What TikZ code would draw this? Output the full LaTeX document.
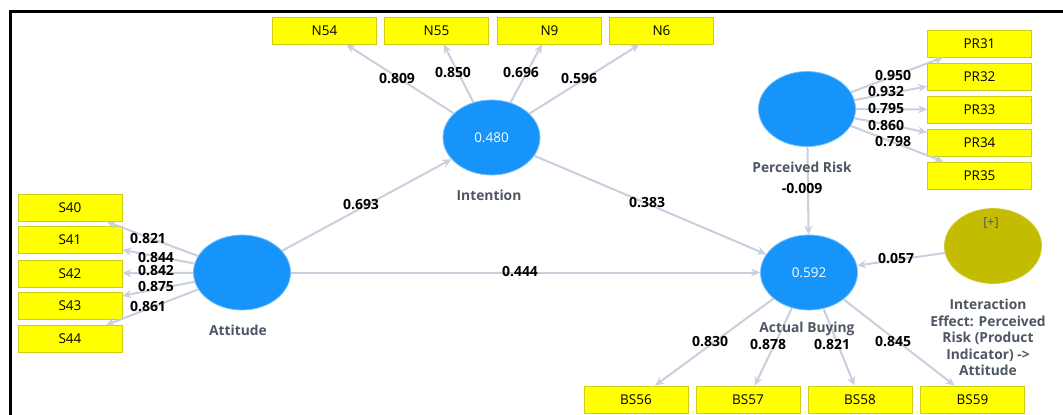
\documentclass[tikz,border=0pt]{standalone}
\usepackage{fontspec}
\setmainfont{Open Sans}
\usetikzlibrary{shapes.geometric,arrows.meta}
\definecolor{boxyellow}{RGB}{255,255,0}
\definecolor{boxedge}{RGB}{205,205,20}
\definecolor{lvblue}{RGB}{22,148,250}
\definecolor{lvedge}{RGB}{120,190,250}
\definecolor{olive}{RGB}{196,188,0}
\definecolor{arrowcol}{RGB}{200,208,222}
\definecolor{labgray}{RGB}{78,86,100}
\tikzset{
  ind/.style={draw=boxedge, line width=0.8pt, fill=boxyellow, minimum width=104pt, minimum height=27pt, inner sep=0pt, font=\fontsize{13.5}{13.5}\selectfont},
  lv/.style={ellipse, fill=lvblue, draw=lvedge, line width=0.8pt, minimum width=97pt, minimum height=75pt, inner sep=0pt, text=white, font=\fontsize{13.5}{13.5}\selectfont},
  arr/.style={draw=arrowcol, line width=2pt, -{Stealth[length=9pt,width=8pt]}},
  coef/.style={font=\bfseries\fontsize{14}{14}\selectfont, inner sep=0pt},
  lvlab/.style={text=labgray, font=\bfseries\fontsize{13.8}{16.5}\selectfont, inner sep=0pt, align=center}
}
\begin{document}
\begin{tikzpicture}[x=1pt,y=-1pt]
\useasboundingbox (0,0) rectangle (1063,415);
\fill[white] (0,0) rectangle (1063,415);
\draw[line width=2.5pt] (10.5,415) -- (10.5,11.5) -- (1063,11.5);
% indicators
\node[ind] (s40) at (70,208) {S40};
\node[ind] (s41) at (70,240) {S41};
\node[ind] (s42) at (70,273.5) {S42};
\node[ind] (s43) at (70,306) {S43};
\node[ind] (s44) at (70,339) {S44};
\node[ind] (n54) at (324.5,30.5) {N54};
\node[ind] (n55) at (436.5,30.5) {N55};
\node[ind] (n9) at (549.5,30.5) {N9};
\node[ind] (n6) at (661.5,30.5) {N6};
\node[ind] (pr31) at (979.5,43.5) {PR31};
\node[ind] (pr32) at (979.5,76.5) {PR32};
\node[ind] (pr33) at (979.5,109.5) {PR33};
\node[ind] (pr34) at (979.5,142.5) {PR34};
\node[ind] (pr35) at (979.5,175.5) {PR35};
\node[ind] (bs56) at (636,399.5) {BS56};
\node[ind] (bs57) at (748,399.5) {BS57};
\node[ind] (bs58) at (860,399.5) {BS58};
\node[ind] (bs59) at (972.5,399.5) {BS59};
% latent variables
\node[lv] (att) at (242,272.5) {};
\node[lv] (int) at (491.5,137.5) {0.480};
\node[lv] (pr) at (807,109) {};
\node[lv] (ab) at (809,272.5) {0.592};
\node[lv, fill=olive, draw=olive!80!white, text=labgray] (ie) at (993,246) {};
\node[text=labgray, font=\fontsize{12.5}{12.5}\selectfont, inner sep=0pt] (ietag) at (991,223) {[+]};
% arrows
\foreach \t in {s40,s41,s42,s43,s44} \draw[arr] (att) -- (\t);
\foreach \t in {n54,n55,n9,n6} \draw[arr] (int) -- (\t);
\foreach \t in {pr31,pr32,pr33,pr34,pr35} \draw[arr] (pr) -- (\t);
\foreach \t in {bs56,bs57,bs58,bs59} \draw[arr] (ab) -- (\t);
\draw[arr] (att) -- (int);
\draw[arr] (att) -- (ab);
\draw[arr] (int) -- (ab);
\draw[arr] (pr) -- (ab);
\draw[arr] (ie) -- (ab);
% construct labels
\node[lvlab] (attl) at (238,330) {Attitude};
\node[lvlab] (intl) at (489,195) {Intention};
\node[lvlab] (prl) at (802,167) {Perceived Risk};
\node[lvlab] (abl) at (807,329) {Actual Buying};
\node[lvlab, anchor=north] (iel) at (988,299) {Interaction\\Effect: Perceived\\Risk (Product\\Indicator) ->\\Attitude};
% coefficients
\node[coef] (c1) at (361,205) {0.693};
\node[coef] (c2) at (647,203) {0.383};
\node[coef] (c3) at (520,272) {0.444};
\node[coef] (c4) at (896,259) {0.057};
\node[coef] (c5) at (802,189) {-0.009};
\node[coef] (l1) at (148,239) {0.821};
\node[coef] (l2) at (156,258) {0.844};
\node[coef] (l3) at (156,271) {0.842};
\node[coef] (l4) at (156,287) {0.875};
\node[coef] (l5) at (148,307) {0.861};
\node[coef] (l6) at (397,79) {0.809};
\node[coef] (l7) at (453,73) {0.850};
\node[coef] (l8) at (521,73) {0.696};
\node[coef] (l9) at (579,79) {0.596};
\node[coef] (l10) at (893,76) {0.950};
\node[coef] (l11) at (886,92) {0.932};
\node[coef] (l12) at (886,109) {0.795};
\node[coef] (l13) at (886,126) {0.860};
\node[coef] (l14) at (893,142) {0.798};
\node[coef] (l15) at (710,342) {0.830};
\node[coef] (l16) at (768,345) {0.878};
\node[coef] (l17) at (832,345) {0.821};
\node[coef] (l18) at (893,342) {0.845};
\end{tikzpicture}
\end{document}
